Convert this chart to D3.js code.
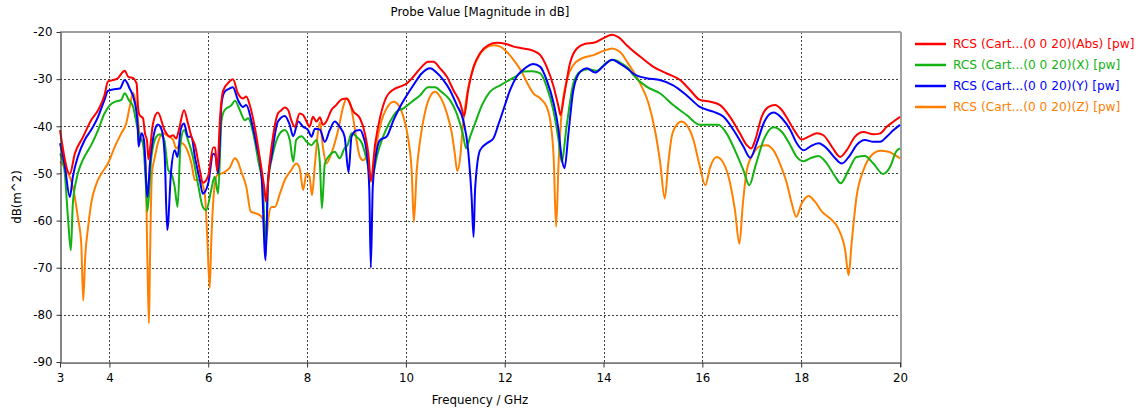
<!DOCTYPE html>
<html>
<head>
<meta charset="utf-8">
<script src="https://cdn.jsdelivr.net/npm/d3@7"></script>
<style>
  body { margin: 0; background: #fff; }
  svg { display: block; }
  text { font-family: "DejaVu Sans", Verdana, sans-serif; }
</style>
</head>
<body>
<svg id="chart" width="1148" height="412"></svg>
<script>
// Monostatic RCS probe at (0 0 20): [frequency GHz, magnitude dB(m^2)]
const rcsAbs = [
  [3.00,-40.8],[3.20,-50.1],[3.30,-45.8],[3.47,-42.2],[3.53,-40.8],[3.63,-38.7],[3.77,-36.6],[3.90,-33.4],
  [3.97,-30.5],[4.07,-30.2],[4.17,-29.8],[4.28,-28.4],[4.31,-28.2],[4.38,-29.5],[4.48,-29.8],[4.55,-30.9],
  [4.58,-36.0],[4.61,-37.6],[4.68,-38.3],[4.72,-41.5],[4.76,-43.0],[4.79,-47.0],[4.83,-44.0],[4.88,-39.5],
  [4.98,-37.1],[5.12,-40.9],[5.22,-42.2],[5.29,-41.9],[5.35,-42.6],[5.42,-40.1],[5.51,-36.6],[5.59,-39.4],
  [5.66,-42.2],[5.73,-44.0],[5.83,-49.3],[5.89,-52.0],[6.00,-50.5],[6.10,-44.5],[6.14,-44.5],[6.18,-49.5],
  [6.24,-38.0],[6.30,-32.5],[6.43,-30.5],[6.50,-30.0],[6.60,-33.0],[6.70,-34.1],[6.77,-33.7],[6.84,-35.5],
  [6.94,-40.1],[7.04,-46.5],[7.14,-53.5],[7.17,-56.0],[7.24,-47.9],[7.31,-42.2],[7.41,-37.3],[7.48,-36.6],
  [7.55,-36.0],[7.62,-36.6],[7.68,-38.7],[7.75,-40.1],[7.85,-37.3],[7.92,-37.6],[7.99,-39.0],[8.05,-40.1],
  [8.12,-38.0],[8.19,-39.0],[8.26,-38.1],[8.32,-39.7],[8.39,-39.0],[8.49,-36.6],[8.59,-35.5],[8.70,-34.3],
  [8.80,-34.1],[8.94,-36.9],[9.07,-38.3],[9.17,-41.5],[9.24,-45.8],[9.29,-51.5],[9.38,-43.6],[9.48,-38.0],
  [9.61,-33.7],[9.75,-32.2],[9.88,-31.6],[10.02,-30.9],[10.15,-29.5],[10.32,-27.4],[10.45,-26.3],[10.56,-26.3],
  [10.69,-27.7],[10.83,-29.5],[10.96,-32.3],[11.10,-35.1],[11.18,-37.8],[11.26,-32.3],[11.37,-27.4],[11.50,-24.5],
  [11.67,-22.8],[11.84,-22.3],[12.01,-22.5],[12.18,-23.1],[12.38,-23.5],[12.58,-24.0],[12.72,-24.9],[12.85,-27.4],
  [12.99,-31.6],[13.09,-35.9],[13.13,-37.6],[13.20,-33.7],[13.32,-26.7],[13.46,-23.5],[13.63,-22.5],[13.80,-22.3],
  [14.00,-21.3],[14.17,-20.6],[14.30,-21.1],[14.47,-22.8],[14.54,-23.5],[14.74,-25.2],[15.01,-27.4],[15.28,-28.8],
  [15.55,-30.2],[15.75,-32.3],[15.95,-34.4],[16.16,-34.8],[16.36,-35.5],[16.56,-38.0],[16.76,-41.5],[16.90,-44.0],
  [16.99,-44.7],[17.07,-42.9],[17.20,-38.0],[17.34,-35.9],[17.47,-35.5],[17.61,-36.6],[17.74,-38.7],[17.88,-41.2],
  [18.01,-42.8],[18.15,-42.2],[18.32,-41.5],[18.45,-41.9],[18.62,-44.3],[18.79,-46.5],[18.92,-45.1],[19.09,-42.2],
  [19.26,-41.2],[19.46,-41.7],[19.60,-41.5],[19.73,-40.1],[19.87,-39.0],[20.00,-38.0]
];

const rcsX = [
  [3.00,-45.8],[3.09,-49.3],[3.16,-59.2],[3.22,-66.3],[3.26,-56.4],[3.33,-51.4],[3.43,-47.9],[3.53,-45.8],
  [3.63,-44.0],[3.77,-40.8],[3.90,-37.3],[4.01,-35.5],[4.11,-34.8],[4.24,-34.4],[4.31,-33.0],[4.39,-34.4],
  [4.48,-35.9],[4.55,-39.4],[4.61,-42.2],[4.68,-43.6],[4.73,-50.7],[4.77,-58.0],[4.85,-46.5],[4.95,-42.2],
  [5.02,-41.7],[5.11,-42.9],[5.19,-49.3],[5.25,-50.0],[5.32,-52.8],[5.38,-57.1],[5.44,-43.6],[5.51,-40.8],
  [5.59,-42.9],[5.69,-46.5],[5.79,-52.1],[5.89,-57.1],[5.96,-57.8],[6.06,-53.5],[6.13,-50.7],[6.20,-54.3],
  [6.27,-38.7],[6.33,-36.6],[6.47,-35.5],[6.54,-34.6],[6.64,-36.6],[6.74,-38.7],[6.81,-38.3],[6.91,-41.5],
  [7.01,-47.2],[7.11,-53.5],[7.16,-67.7],[7.21,-52.1],[7.31,-45.8],[7.45,-41.5],[7.55,-40.8],[7.65,-42.9],
  [7.72,-47.5],[7.78,-42.9],[7.89,-42.1],[7.99,-43.3],[8.09,-44.0],[8.19,-42.9],[8.26,-47.9],[8.30,-57.4],
  [8.36,-47.9],[8.46,-46.1],[8.56,-45.4],[8.66,-46.8],[8.76,-44.6],[8.82,-44.0],[8.90,-41.5],[9.00,-42.2],
  [9.11,-43.6],[9.21,-47.2],[9.29,-50.7],[9.34,-50.0],[9.41,-46.5],[9.54,-42.2],[9.68,-39.0],[9.81,-36.9],
  [9.95,-36.2],[10.12,-34.8],[10.29,-33.4],[10.45,-31.7],[10.59,-31.7],[10.72,-32.7],[10.89,-34.4],[11.03,-37.3],
  [11.15,-41.5],[11.22,-44.7],[11.30,-42.2],[11.40,-39.4],[11.54,-35.5],[11.70,-32.7],[11.91,-31.3],[12.04,-30.5],
  [12.21,-29.5],[12.38,-28.4],[12.55,-28.3],[12.72,-28.8],[12.85,-31.6],[12.99,-36.9],[13.09,-42.9],[13.15,-47.5],
  [13.26,-39.4],[13.39,-30.9],[13.53,-28.4],[13.69,-27.9],[13.86,-28.2],[14.06,-26.5],[14.20,-25.9],[14.37,-26.7],
  [14.50,-27.7],[14.60,-29.1],[14.87,-31.6],[15.14,-33.0],[15.41,-35.5],[15.68,-37.6],[15.95,-39.7],[16.16,-39.7],
  [16.32,-39.7],[16.49,-41.5],[16.66,-45.1],[16.83,-49.3],[16.95,-52.5],[17.07,-48.6],[17.24,-42.9],[17.44,-40.2],
  [17.61,-41.2],[17.78,-44.0],[17.91,-46.5],[18.05,-47.4],[18.18,-46.8],[18.35,-46.3],[18.52,-47.9],[18.69,-50.7],
  [18.80,-52.1],[18.96,-49.3],[19.12,-46.5],[19.29,-46.3],[19.46,-47.9],[19.66,-50.1],[19.80,-48.6],[19.92,-45.4],
  [20.00,-44.7]
];

const rcsY = [
  [3.00,-43.6],[3.09,-47.9],[3.20,-55.0],[3.26,-50.7],[3.36,-46.5],[3.50,-42.9],[3.63,-40.8],[3.77,-38.0],
  [3.90,-34.4],[3.97,-32.5],[4.07,-32.2],[4.21,-32.0],[4.31,-30.2],[4.41,-32.0],[4.51,-34.8],[4.57,-39.4],
  [4.59,-44.3],[4.65,-41.5],[4.70,-42.9],[4.75,-52.8],[4.77,-55.0],[4.82,-47.9],[4.92,-40.8],[4.98,-39.6],
  [5.06,-40.8],[5.12,-46.5],[5.17,-62.0],[5.25,-49.3],[5.32,-45.1],[5.38,-46.5],[5.44,-40.8],[5.51,-39.4],
  [5.59,-42.2],[5.66,-42.2],[5.73,-46.5],[5.83,-51.4],[5.89,-54.3],[6.00,-52.1],[6.10,-45.8],[6.14,-46.1],
  [6.20,-50.0],[6.27,-35.1],[6.33,-32.7],[6.43,-32.0],[6.50,-31.7],[6.60,-34.4],[6.70,-35.9],[6.77,-35.5],
  [6.87,-38.7],[6.97,-43.6],[7.08,-50.7],[7.16,-68.4],[7.21,-51.4],[7.28,-46.5],[7.41,-39.0],[7.55,-37.8],
  [7.65,-39.7],[7.72,-42.1],[7.82,-39.0],[7.92,-40.1],[8.02,-40.8],[8.09,-42.2],[8.16,-40.5],[8.26,-40.7],
  [8.36,-43.3],[8.46,-40.8],[8.56,-39.0],[8.66,-40.1],[8.76,-42.2],[8.84,-49.8],[8.90,-42.2],[9.00,-40.9],
  [9.07,-40.8],[9.14,-42.2],[9.21,-45.8],[9.26,-53.5],[9.29,-70.0],[9.33,-52.8],[9.41,-45.1],[9.48,-42.9],
  [9.61,-42.2],[9.75,-38.7],[9.88,-35.9],[10.02,-33.4],[10.15,-31.3],[10.32,-28.8],[10.49,-27.7],[10.62,-28.6],
  [10.76,-30.2],[10.89,-32.3],[11.03,-35.5],[11.16,-38.7],[11.26,-45.1],[11.33,-55.0],[11.37,-63.5],[11.40,-53.5],
  [11.50,-45.1],[11.64,-43.6],[11.77,-42.6],[11.87,-39.7],[11.97,-36.6],[12.11,-32.3],[12.24,-29.5],[12.41,-27.7],
  [12.58,-26.8],[12.72,-27.4],[12.85,-30.2],[12.99,-35.1],[13.09,-40.8],[13.15,-46.5],[13.21,-48.9],[13.29,-41.5],
  [13.39,-32.3],[13.53,-28.4],[13.66,-27.7],[13.83,-28.6],[14.00,-27.2],[14.17,-25.9],[14.33,-26.7],[14.50,-27.9],
  [14.60,-28.8],[14.87,-29.8],[15.14,-30.2],[15.41,-31.3],[15.68,-33.4],[15.95,-35.9],[16.22,-36.9],[16.43,-38.0],
  [16.63,-40.8],[16.83,-44.3],[16.97,-46.7],[17.10,-43.6],[17.27,-38.7],[17.44,-37.1],[17.61,-38.3],[17.78,-40.8],
  [17.91,-43.6],[18.05,-45.1],[18.18,-44.3],[18.35,-43.6],[18.52,-44.7],[18.69,-46.8],[18.82,-47.9],[18.99,-46.1],
  [19.12,-44.0],[19.29,-42.9],[19.46,-43.3],[19.60,-43.3],[19.73,-42.2],[19.87,-40.8],[20.00,-39.7]
];

const rcsZ = [
  [3.00,-47.5],[3.13,-49.3],[3.26,-52.8],[3.36,-59.2],[3.43,-64.9],[3.47,-77.0],[3.51,-67.7],[3.57,-61.3],
  [3.63,-56.4],[3.74,-52.1],[3.84,-50.0],[3.97,-47.9],[4.11,-44.3],[4.24,-41.5],[4.34,-39.4],[4.41,-35.9],
  [4.48,-32.9],[4.55,-35.9],[4.61,-41.5],[4.68,-43.6],[4.73,-47.2],[4.77,-69.1],[4.80,-81.8],[4.82,-69.1],
  [4.86,-50.0],[4.92,-46.5],[4.98,-43.6],[5.09,-41.5],[5.19,-42.1],[5.29,-42.9],[5.35,-44.7],[5.46,-43.6],
  [5.56,-44.7],[5.66,-47.9],[5.73,-51.4],[5.83,-51.4],[5.93,-54.3],[5.98,-63.5],[6.03,-74.3],[6.06,-64.9],
  [6.12,-53.5],[6.18,-50.4],[6.27,-50.0],[6.33,-49.7],[6.43,-48.9],[6.54,-46.8],[6.60,-47.5],[6.67,-49.7],
  [6.77,-52.8],[6.86,-58.1],[6.97,-58.5],[7.08,-59.2],[7.14,-60.6],[7.18,-63.5],[7.22,-59.2],[7.28,-57.1],
  [7.35,-57.1],[7.45,-54.3],[7.55,-51.4],[7.68,-49.3],[7.78,-47.9],[7.85,-48.9],[7.92,-53.5],[7.99,-50.0],
  [8.05,-50.7],[8.10,-54.6],[8.16,-47.9],[8.26,-39.2],[8.32,-44.3],[8.39,-47.9],[8.49,-45.8],[8.63,-40.8],
  [8.73,-35.9],[8.80,-34.1],[8.87,-35.1],[8.94,-38.7],[9.00,-42.9],[9.07,-46.5],[9.14,-47.2],[9.21,-46.5],
  [9.26,-49.3],[9.29,-51.8],[9.34,-49.3],[9.41,-43.6],[9.51,-38.7],[9.61,-36.2],[9.75,-34.8],[9.85,-35.5],
  [9.95,-38.0],[10.05,-42.9],[10.12,-50.0],[10.16,-60.3],[10.22,-49.3],[10.29,-42.9],[10.39,-36.9],[10.49,-33.7],
  [10.59,-32.7],[10.69,-33.7],[10.83,-37.3],[10.93,-41.5],[10.99,-45.8],[11.04,-49.5],[11.10,-46.5],[11.15,-40.1],
  [11.23,-33.7],[11.33,-28.8],[11.47,-25.2],[11.60,-23.5],[11.77,-22.8],[11.91,-23.1],[12.04,-24.2],[12.18,-25.9],
  [12.34,-28.4],[12.48,-31.3],[12.58,-33.0],[12.72,-34.1],[12.85,-35.9],[12.93,-39.4],[12.99,-46.5],[13.04,-61.3],
  [13.09,-47.9],[13.15,-37.3],[13.26,-30.2],[13.39,-27.0],[13.56,-25.6],[13.80,-24.9],[14.00,-24.0],[14.17,-23.5],
  [14.33,-24.2],[14.50,-26.7],[14.74,-30.9],[14.91,-35.1],[15.04,-40.8],[15.14,-47.2],[15.24,-55.3],[15.31,-47.9],
  [15.38,-42.2],[15.48,-39.7],[15.58,-39.0],[15.68,-39.7],[15.82,-42.9],[15.95,-48.6],[16.06,-52.5],[16.16,-48.6],
  [16.29,-46.5],[16.39,-47.2],[16.53,-50.7],[16.66,-57.8],[16.75,-64.9],[16.82,-56.4],[16.90,-49.3],[17.03,-45.8],
  [17.17,-44.2],[17.30,-44.0],[17.44,-45.1],[17.57,-47.9],[17.71,-52.1],[17.81,-56.4],[17.90,-59.2],[18.01,-56.4],
  [18.15,-54.8],[18.28,-56.0],[18.42,-58.1],[18.59,-59.6],[18.75,-61.7],[18.89,-66.3],[18.96,-71.6],[19.02,-64.9],
  [19.12,-55.0],[19.26,-49.3],[19.43,-46.1],[19.60,-45.2],[19.77,-45.4],[19.90,-46.1],[20.00,-46.8]
];

const seriesNames = [
  "RCS (Cart...(0 0 20)(Abs) [pw]",
  "RCS (Cart...(0 0 20)(X) [pw]",
  "RCS (Cart...(0 0 20)(Y) [pw]",
  "RCS (Cart...(0 0 20)(Z) [pw]"
];
const seriesColors = ["#ff0000", "#12b312", "#0000ff", "#ff8000"];

const xTicks = [3, 4, 6, 8, 10, 12, 14, 16, 18, 20];
const yTicks = [-20, -30, -40, -50, -60, -70, -80, -90];

const titleText = "Probe Value [Magnitude in dB]";
const xTitle = "Frequency / GHz";
const yTitle = "dB(m^2)";

// ---- layout ----
const svg = d3.select("#chart");
const plotLeft = 60, plotRight = 900, plotTop = 32, plotBottom = 362;
const fontSize = 11.8;

const x = d3.scaleLinear().domain([3, 20]).range([plotLeft, plotRight]);
const y = d3.scaleLinear().domain([-90, -20]).range([plotBottom, plotTop]);

svg.append("rect").attr("width", 1148).attr("height", 412).attr("fill", "#fff");

// dotted grid
const grid = svg.append("g").attr("stroke", "#404040").attr("stroke-width", 1)
  .attr("stroke-dasharray", "2,2").attr("shape-rendering", "crispEdges");
grid.selectAll("line.v").data(xTicks.filter(d => d > 3 && d < 20)).join("line")
  .attr("class", "v")
  .attr("x1", d => Math.round(x(d)) + 0.5).attr("x2", d => Math.round(x(d)) + 0.5)
  .attr("y1", plotTop).attr("y2", plotBottom);
grid.selectAll("line.h").data(yTicks.filter(d => d > -90 && d < -20)).join("line")
  .attr("class", "h")
  .attr("x1", plotLeft).attr("x2", plotRight)
  .attr("y1", d => Math.round(y(d)) + 0.5).attr("y2", d => Math.round(y(d)) + 0.5);

// frame: light top/right, dark left/bottom axes
svg.append("line").attr("x1", plotLeft).attr("x2", plotRight + 1).attr("y1", plotTop).attr("y2", plotTop)
  .attr("stroke", "#a0a0a0").attr("stroke-width", 2);
svg.append("line").attr("x1", plotRight + 1).attr("x2", plotRight + 1).attr("y1", plotTop).attr("y2", plotBottom + 5)
  .attr("stroke", "#a0a0a0").attr("stroke-width", 2);
svg.append("line").attr("x1", plotLeft).attr("x2", plotRight + 1).attr("y1", plotBottom + 1.5).attr("y2", plotBottom + 1.5)
  .attr("stroke", "#c8c8c8").attr("stroke-width", 1);

// series
const line = d3.line().x(d => x(d[0])).y(d => y(d[1])).curve(d3.curveMonotoneX);
const allSeries = [rcsAbs, rcsX, rcsY, rcsZ];
const plot = svg.append("g");
// draw order: orange under, then green, blue, red on top
[3, 1, 2, 0].forEach(i => {
  plot.append("path").datum(allSeries[i])
    .attr("fill", "none")
    .attr("stroke", seriesColors[i])
    .attr("stroke-width", 2)
    .attr("stroke-linejoin", "round")
    .attr("d", line);
});

// axes
const xAxis = d3.axisBottom(x).tickValues(xTicks).tickSize(5).tickSizeOuter(0).tickFormat(d3.format("d"));
const yAxis = d3.axisLeft(y).tickValues(yTicks).tickSize(4).tickSizeOuter(0).tickFormat(d => d);

const gx = svg.append("g").attr("transform", `translate(0,${plotBottom + 0.5})`).call(xAxis);
const gy = svg.append("g").attr("transform", `translate(${plotLeft + 0.5},0)`).call(yAxis);
[gx, gy].forEach(g => {
  g.select(".domain").attr("stroke", "#333").attr("stroke-width", 1.2);
  g.selectAll(".tick line").attr("stroke", "#333");
  g.selectAll(".tick text").attr("fill", "#000").attr("font-size", fontSize)
    .attr("font-family", "'DejaVu Sans', Verdana, sans-serif");
});
gx.selectAll(".tick text").attr("dy", "0.95em").attr("y", 8);
gy.selectAll(".tick text").attr("x", -8);

// titles
svg.append("text").attr("x", 480).attr("y", 16).attr("text-anchor", "middle")
  .attr("font-size", fontSize).attr("fill", "#000").text(titleText);
svg.append("text").attr("x", 480).attr("y", 404).attr("text-anchor", "middle")
  .attr("font-size", fontSize).attr("fill", "#000").text(xTitle);
svg.append("text").attr("transform", "translate(21,197) rotate(-90)").attr("text-anchor", "middle")
  .attr("font-size", fontSize).attr("fill", "#000").text(yTitle);

// legend
const legend = svg.append("g").attr("transform", "translate(915,44)");
seriesNames.forEach((name, i) => {
  const row = legend.append("g").attr("transform", `translate(0,${i * 21})`);
  row.append("line").attr("x1", 0).attr("x2", 31).attr("y1", 0).attr("y2", 0)
    .attr("stroke", seriesColors[i]).attr("stroke-width", 2.5);
  row.append("text").attr("x", 38).attr("y", 0).attr("dy", "0.36em")
    .attr("font-size", 12.2).attr("fill", seriesColors[i]).text(name);
});
</script>
</body>
</html>
